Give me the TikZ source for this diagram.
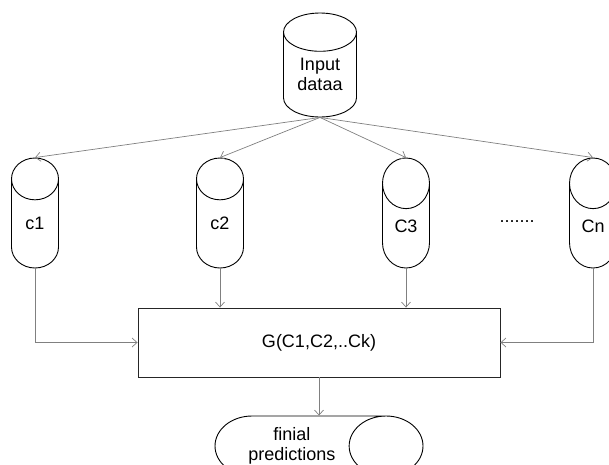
\documentclass[tikz,border=0pt]{standalone}
\usepackage{fontspec}
\setmainfont{Liberation Sans}
\usetikzlibrary{shapes.geometric,arrows.meta,positioning}

\tikzset{
  db/.style={draw, cylinder, shape border rotate=90, aspect=2.2,
    minimum width=47pt, minimum height=110pt, inner sep=0pt,
    anchor=shape center, line width=0.9pt, font=\fontsize{18}{20}\selectfont},
  link/.style={draw=gray, line width=0.7pt,
    -{Straight Barb[length=5pt,width=9pt]}},
}

\begin{document}
\begin{tikzpicture}[x=1pt,y=-1pt]
 \useasboundingbox (0,0) rectangle (609,464);
 % data source
 \node[db, aspect=0.85, minimum width=73pt, minimum height=104pt, align=center]
   (input) at (320,65) {Input\\dataa};
 % classifiers
 \node[db] (c1) at (35,213) {c1};
 \node[db] (c2) at (220,213) {c2};
 \node[db] (c3) at (406,213) {C3};
 \node[db] (cn) at (593,213) {Cn};
 \node[font=\fontsize{18}{20}\selectfont] (dots) at (517,222) {.......};
 % combiner
 \node[draw=black!85, line width=0.9pt, minimum width=362pt, minimum height=69pt,
   font=\fontsize{18}{20}\selectfont] (comb) at (319,342.5) {G(C1,C2,..Ck)};
 \node[draw, cylinder, aspect=1.7, minimum width=60pt, minimum height=208pt,
   anchor=shape center, line width=0.9pt, align=center,
   font=\fontsize{18}{20}\selectfont]
   (out) at (319,446) {finial\\predictions};

 \foreach \c in {c1,c2,c3,cn}
   \draw[link] (input.bottom) -- (\c.top);
 \draw[link] (c1.bottom) |- (comb.west);
 \draw[link] (c2.bottom) -- (c2.bottom |- comb.north);
 \draw[link] (c3.bottom) -- (c3.bottom |- comb.north);
 \draw[link] (cn.bottom) |- (comb.east);
 \draw[link] (comb.south) -- (comb.south |- out.north);
\end{tikzpicture}
\end{document}
